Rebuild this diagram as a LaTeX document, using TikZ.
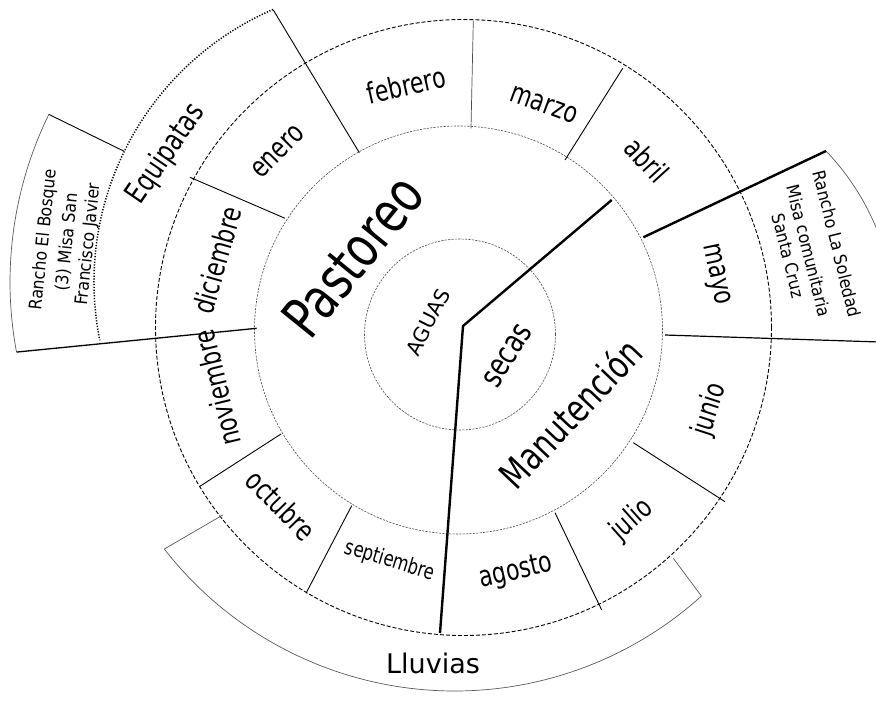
\documentclass[tikz,border=0pt]{standalone}
\usepackage{fontspec}
\setmainfont{DejaVu Sans}
\newfontfamily\narrowfont{DejaVu Sans}[FakeStretch=0.76]
\newfontfamily\notefont{DejaVu Sans}[FakeStretch=0.9]
\usetikzlibrary{calc}

\begin{document}
\begin{tikzpicture}[x=1pt,y=1pt,
  finering/.style={draw=black!70, line width=0.6pt, dash pattern=on 2.2pt off 1.2pt},
  monthring/.style={draw=black, line width=0.9pt, dash pattern=on 4pt off 2pt},
  divider/.style={draw=black, line width=0.9pt},
  heavy/.style={draw=black, line width=2.4pt},
  boxedge/.style={draw=black!65, line width=0.7pt},
  dotring/.style={draw=black, line width=1.5pt, dash pattern=on 1.2pt off 1.6pt},
  month/.style={font=\narrowfont\fontsize{29}{33}\selectfont, inner sep=0pt},
  note/.style={font=\notefont\fontsize{17.5}{21}\selectfont, align=center, inner sep=0pt},
]
\useasboundingbox (0,0) rectangle (876,-704);
\clip (0,0) rectangle (876,-704);

% centres of the rings and of the outer bands
\coordinate (Cin)    at (460,-334.5);
\coordinate (Cmid)   at (458.5,-330);
\coordinate (Cout)   at (463.5,-327.5);
\coordinate (Cdot)   at (391,-282);
\coordinate (Crain)  at (454.7,-323);
\coordinate (Cright) at (646.6,-323);
\coordinate (hub)    at (463,-326);

% rings
\draw[finering]  (Cin)  circle[radius=95.5];
\draw[finering]  (Cmid) circle[radius=204];
\draw[monthring] (Cout) circle[radius=308];

% Equipatas band (dotted outer edge)
\draw[dotring] ($(Cdot)+(113.4:297)$) arc[start angle=113.4, end angle=191.3, radius=297];

% left note box
\coordinate (lbTL) at ($(Cdot)+(153.9:381)$);
\coordinate (lbTR) at ($(Cdot)+(153.9:297)$);
\coordinate (lbBL) at ($(Cdot)+(190.6:381)$);
\draw[boxedge] (lbTL) arc[start angle=153.9, end angle=190.6, radius=381];
\draw[divider] (lbTR) -- (lbTL);

% right note box
\coordinate (rbTop) at (826,-151);
\draw[boxedge] (rbTop) arc[start angle=43.8, end angle=-6, radius=248.5];

% Lluvias band
\coordinate (llL)  at ($(Crain)+(217.9:368)$);
\coordinate (llR)  at ($(Crain)+(-47.9:368)$);
\coordinate (llLi) at (222.7,-515);
\coordinate (llRi) at (673.3,-558.3);
\draw[boxedge] (llL) arc[start angle=217.9, end angle=312.1, radius=368];
\draw[boxedge] (llLi) -- (llL);
\draw[boxedge] (llRi) -- (llR);

% month dividers
\coordinate (d1a) at (285,-218.3);   \coordinate (d1b) at (190,-177.3);
\coordinate (d2a) at (359.3,-152.7); \coordinate (d2b) at (273.3,-10);
\coordinate (d3a) at (471,-128.3);   \coordinate (d3b) at (473.3,-20.7);
\coordinate (d4a) at (565,-160);     \coordinate (d4b) at (622.7,-68.3);
\coordinate (d5a) at (643.3,-237.3);
\coordinate (d6a) at (665,-335);     \coordinate (d6b) at (895,-342.5);
\coordinate (d7a) at (633.3,-442.7); \coordinate (d7b) at (725,-501.7);
\coordinate (d8a) at (555,-512.7);   \coordinate (d8b) at (601.7,-610);
\coordinate (d9b) at (440,-633);
\coordinate (d10a) at (351.7,-505.7); \coordinate (d10b) at (306,-593.3);
\coordinate (d11a) at (281,-434);     \coordinate (d11b) at (199.3,-486.7);
\coordinate (d12a) at (256.7,-328.3);
\coordinate (secA) at (611.7,-200);

\draw[divider] (d1a) -- (d1b);
\draw[divider] (d2a) -- (d2b);
\draw[divider, draw=black!70, line width=0.7pt] (d3a) -- (d3b);
\draw[divider] (d4a) -- (d4b);
\draw[heavy] (d5a) -- (rbTop);
\draw[divider, line width=1.2pt] (d6a) -- (d6b);
\draw[divider] (d7a) -- (d7b);
\draw[divider] (d8a) -- (d8b);
\draw[divider] (d10a) -- (d10b);
\draw[divider] (d11a) -- (d11b);
\draw[divider, line width=1.3pt] (d12a) -- (lbBL);

% season split
\draw[heavy] (secA) -- (hub) -- (d9b);

% month labels
\node[month, rotate=45]    (ene) at (278,-152) {enero};
\node[month, rotate=12.7]  (feb) at (406,-85)  {febrero};
\node[month, rotate=-20.3] (mar) at (544,-105) {marzo};
\node[month, rotate=-47.7] (abr) at (647,-160) {abril};
\node[month, rotate=-78]   (may) at (715,-275) {mayo};
\node[month, rotate=72]    (jun) at (710,-410) {junio};
\node[month, rotate=41.8]  (jul) at (632,-520) {julio};
\node[month, rotate=12.8]  (ago) at (516,-572) {agosto};
\node[month, rotate=-17, font=\narrowfont\fontsize{21.5}{24}\selectfont] (sep) at (390,-561) {septiembre};
\node[month, rotate=-45.6] (oct) at (281,-505) {octubre};
\node[month, rotate=103.6] (nov) at (217,-388) {noviembre};
\node[month, rotate=74.2]  (dic) at (217,-260) {diciembre};

% activity and season labels
\node[inner sep=0pt, rotate=51, font=\narrowfont\fontsize{57}{62}\selectfont] (past) at (353,-256) {Pastoreo};
\node[inner sep=0pt, rotate=46.6, font=\narrowfont\fontsize{38}{42}\selectfont] (manu) at (570,-413) {Manutención};
\node[inner sep=0pt, rotate=63, font=\fontsize{20.5}{24}\selectfont] (aguas) at (428,-322) {AGUAS};
\node[inner sep=0pt, rotate=58, font=\narrowfont\fontsize{32}{36}\selectfont] (secas) at (508,-356) {secas};
\node[inner sep=0pt, rotate=55.6, font=\narrowfont\fontsize{30}{34}\selectfont] (equi) at (166,-154) {Equipatas};
\node[inner sep=0pt, font=\fontsize{27}{30}\selectfont] (lluv) at (433,-663) {Lluvias};

% note boxes
\node[note, rotate=84] (bosque) at (66,-242) {Rancho El Bosque\\[3pt](3) Misa San\\Francisco Javier};
\node[note, rotate=-76] (soledad) at (813,-250) {Rancho La Soledad\\[8pt]Misa comunitaria\\Santa Cruz};
\end{tikzpicture}
\end{document}
